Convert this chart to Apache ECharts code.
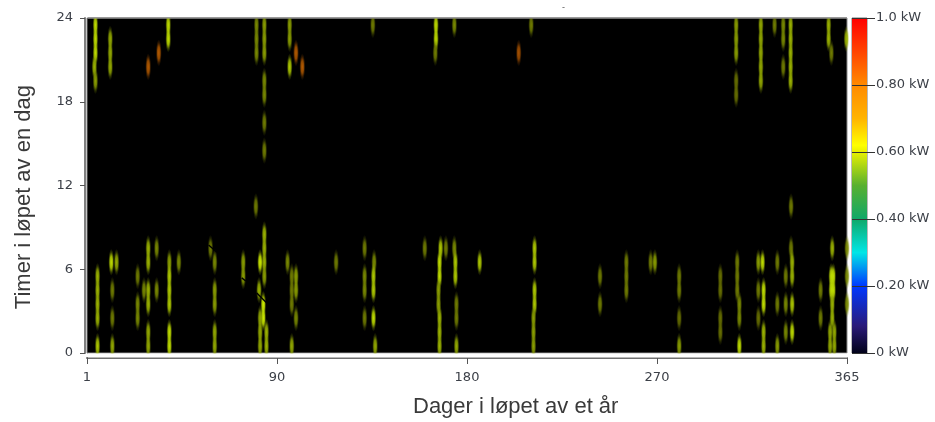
<!DOCTYPE html>
<html><head><meta charset="utf-8">
<style>html,body{margin:0;padding:0;background:#fff}#c{width:935px;height:422px}</style>
<script src="https://cdn.jsdelivr.net/npm/echarts@6/dist/echarts.min.js"></script>
</head><body><div id="c"></div>
<script>
const xTickLabels = {0:'1',90:'90',180:'180',270:'270',360:'365'};
const yTickLabels = [0,6,12,18,24];
const legendLabels = {0:'0 kW',0.2:'0.20 kW',0.4:'0.40 kW',0.6:'0.60 kW',0.8:'0.80 kW',1:'1.0 kW'};
const xTitle = 'Dager i løpet av et år';
const yTitle = 'Timer i løpet av en dag';

// runs of hourly readings: [column on the 0-360 axis, first hour, end hour, kW]
const runsEvening = [
 [4,21,24,.6],[3.5,20,21,.56],[4,19,20,.54],[11,20,23,.55],[29,20,21,.78],[34,21,22,.78],[38.5,22,24,.6],
 [80.3,21,24,.52],[84,21,24,.54],[84,18,20,.52],[84,16,17,.5],[84,14,15,.5],
 [96,22,24,.54],[96,20,21,.58],[99,21,22,.78],[102,20,21,.78],
 [135.4,23,24,.5],[165.3,22,24,.6],[165,21,22,.5],[174,23,24,.52],[204.5,21,22,.76],[210.4,23,24,.5],
 [307.5,21,24,.54],[307.5,18,20,.48],[319.2,19,24,.55],[325.7,23,24,.5],[329.8,22,24,.52],[329.8,20,21,.5],
 [333.3,19,24,.56],[351.3,22,24,.56],[352.6,21,22,.5],[359.7,22,23,.56]
];
const runsMorningA = [
 [5,2,6,.56],[5,0,1,.58],[12,4,5,.5],[12,2,3,.5],[12,0,1,.55],[11.5,6,7,.6],[14,6,7,.55],
 [24,5,6,.5],[24,2,4,.52],[29,6,8,.56],[27,4,5,.52],[29,3,5,.56],[29,0,2,.55],[33,7,8,.52],[33,4,5,.52],
 [39,6,7,.54],[39,3,6,.58],[39,0,2,.6],[43.5,6,7,.52],[58.5,7,8,.5],[60.5,6,7,.52],[60.5,3,5,.54],[60.5,0,2,.55],
 [74,5,7,.54],[80,10,11,.5],[84,8,9,.56],[84,6,8,.56],[82,6,7,.62],[84,5,6,.54],[81.5,4,5,.56],[83.5,2,4,.62],
 [82,0,3,.55],[85,0,2,.56],[95,6,7,.52],[97,3,6,.5],[97,0,1,.55],[99,4,6,.54],[99,2,3,.52],[118,6,7,.5]
];
const runsMorningB = [
 [131.5,7,8,.5],[131.5,4,6,.52],[131.5,2,3,.5],[136,6,7,.52],[135.7,4,6,.58],[135.7,2,3,.6],[136.5,0,1,.55],
 [160,7,8,.5],[167.5,7,8,.58],[170,7,8,.5],[167,5,7,.6],[166.5,3,5,.54],[167,0,3,.56],
 [174,7,8,.52],[174.5,5,7,.58],[175,2,4,.5],[175,0,1,.55],[186,6,7,.58],
 [212,6,8,.58],[212,3,5,.58],[211.5,0,3,.54],[243,5,6,.5],[243,3,4,.5]
];
const runsMorningC = [
 [255.5,4,7,.5],[267,6,7,.5],[269,6,7,.54],[280.5,4,6,.5],[280.5,2,3,.48],[280.5,0,1,.54],
 [300,4,6,.48],[300,1,3,.48],[308,4,7,.5],[309,2,4,.52],[309,0,1,.6],
 [318,6,7,.54],[318,4,5,.5],[318,2,3,.48],[320,6,7,.6],[320.5,3,5,.6],[320.5,0,2,.56],
 [327,6,7,.5],[327,3,4,.5],[327,0,1,.54],[331,5,6,.5],[331,3,4,.52],[331,1,2,.52],
 [333.5,10,11,.5],[333.5,7,8,.5],[334,5,7,.56],[334,3,4,.58],[334,1,2,.6],
 [347.5,4,5,.5],[347.5,2,3,.5],[353,7,8,.56],[352.5,4,6,.6],[353.5,4,6,.6],[353,2,4,.56],[352,0,2,.55],[354,0,2,.55],
 [360,7,8,.52],[360,5,6,.52],[360,3,4,.52]
];
// thin black scratches: [x0,h0,x1,h1]
const scratches = [[57.6,7.74,61.4,7.24],[73.3,5.38,75.2,5.16],[80.4,4.3,86.1,3.44]];

// colour bar stops, value in kW
const rampStops = [[0,'#02021a'],[.08,'#2a1a78'],[.2,'#0038ff'],[.3,'#00e6e6'],[.4,'#10a868'],[.5,'#58b030'],
 [.6,'#e8f000'],[.62,'#ffff00'],[.7,'#ffb400'],[.8,'#ff8a00'],[.9,'#ff4400'],[1,'#ff0000']];
// how readings look once the source smoothed them against the black field
const markStops = [[.48,[104,112,0]],[.52,[122,138,0]],[.56,[156,180,0]],[.6,[192,222,0]],[.62,[208,238,0]],[.76,[165,80,0]],[.78,[180,90,0]]];

function markColor(v){
  let i=0; while(i<markStops.length-2 && v>markStops[i+1][0]) i++;
  const a=markStops[i],b=markStops[i+1],t=Math.max(0,Math.min(1,(v-a[0])/(b[0]-a[0])));
  return a[1].map((c,k)=>Math.round(c+(b[1][k]-c)*t));
}
const hourly=[];
[runsEvening,runsMorningA,runsMorningB,runsMorningC].forEach(list=>list.forEach(([x,a,b,v])=>{
  for(let h=a;h<b;h++) hourly.push([x,h+.5,v]);
}));
function blob(v){
  const c=markColor(v).join(',');
  return {type:'radial',x:.5,y:.5,r:.5,colorStops:[
    {offset:0,color:`rgba(${c},1)`},{offset:.45,color:`rgba(${c},.8)`},{offset:.75,color:`rgba(${c},.25)`},{offset:1,color:`rgba(${c},0)`}]};
}
const axisText={color:'#3c4048',fontFamily:'"DejaVu Sans"',fontSize:13};
const chart=echarts.init(document.getElementById('c'),null,{renderer:'canvas'});
chart.setOption({
  animation:false,backgroundColor:'#fff',
  grid:[
    {left:87,top:18,width:760,height:335,show:true,backgroundColor:'#000',borderColor:'#8a8a8a',borderWidth:1},
    {left:852,top:18,width:15,height:335,show:true,borderColor:'#777',borderWidth:1,backgroundColor:'transparent'}
  ],
  xAxis:[
    {gridIndex:0,type:'value',min:0,max:360,interval:90,offset:5,
     axisLine:{show:true,onZero:false,lineStyle:{color:'#707070',width:2}},axisTick:{show:true,length:6,lineStyle:{color:'#555'}},
     splitLine:{show:false},axisLabel:{...axisText,margin:13,showMaxLabel:true,showMinLabel:true,formatter:v=>xTickLabels[v]}},
    {gridIndex:1,type:'category',data:[''],axisLine:{show:false},axisTick:{show:false},axisLabel:{show:false}}
  ],
  yAxis:[
    {gridIndex:0,type:'value',min:0,max:24,interval:6,offset:2,
     axisLine:{show:true,onZero:false,lineStyle:{color:'#808080',width:2}},axisTick:{show:true,length:5,lineStyle:{color:'#555'}},
     splitLine:{show:false},axisLabel:{...axisText,margin:12,formatter:v=>yTickLabels.includes(v)?String(v):''}},
    {gridIndex:1,type:'value',min:0,max:1,interval:.2,position:'right',z:5,
     axisLine:{show:false,onZero:false},axisTick:{show:true,length:8,lineStyle:{color:'#333'}},
     splitLine:{show:true,lineStyle:{color:'#333',width:1}},
     axisLabel:{...axisText,fontSize:13,margin:9,formatter:v=>legendLabels[+v.toFixed(1)]}}
  ],
  series:[
    {type:'scatter',xAxisIndex:0,yAxisIndex:0,data:hourly,symbol:'circle',symbolSize:[6,27],clip:true,silent:true,
     encode:{x:0,y:1},itemStyle:{opacity:1,color:p=>blob(p.value[2])}},
    {type:'lines',coordinateSystem:'cartesian2d',xAxisIndex:0,yAxisIndex:0,polyline:false,silent:true,z:3,
     data:scratches.map(s=>({coords:[[s[0],s[1]],[s[2],s[3]]]})),lineStyle:{color:'#000',width:1.4,opacity:1}},
    {type:'bar',xAxisIndex:1,yAxisIndex:1,data:[1],barWidth:'100%',silent:true,
     itemStyle:{color:{type:'linear',x:0,y:1,x2:0,y2:0,colorStops:rampStops.map(([o,c])=>({offset:o,color:c}))}}}
  ],
  graphic:[
    {type:'rect',z:10,left:88,top:0,shape:{width:759,height:17},style:{fill:'#fff'}},
    {type:'rect',z:10,left:88,top:17,shape:{width:759,height:1.5},style:{fill:'#9a9a9a'}},
    {type:'rect',z:10,left:88,top:353.5,shape:{width:759,height:4},style:{fill:'#fff'}},
    {type:'text',z:11,left:413,top:396,style:{text:xTitle,fill:'#3a3a3a',font:'22px "Liberation Sans"'}},
    {type:'text',z:11,left:13,top:85,rotation:Math.PI/2,originX:0,originY:0,style:{text:yTitle,fill:'#3a3a3a',font:'22px "Liberation Sans"'}},
    {type:'text',z:11,left:562,top:3,style:{text:'-',fill:'#555',font:'9px "Liberation Sans"'}}
  ]
});
</script></body></html>
